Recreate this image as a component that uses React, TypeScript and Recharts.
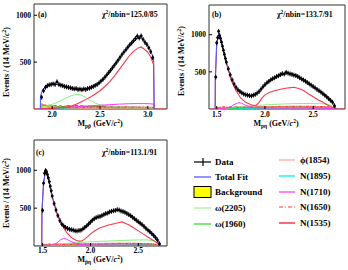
import React from "react";
import { ComposedChart, Line, Area, Scatter, XAxis, YAxis, ReferenceArea } from "recharts";

type P = [number, number];

// ---------- panel (a): M(p pbar) ----------
const aData: P[] = [
  [1.89, 125], [1.91, 195], [1.93, 232], [1.95, 248], [1.97, 258], [1.99, 262], [2.01, 268], [2.03, 262],
  [2.05, 290], [2.07, 262], [2.09, 255], [2.11, 248], [2.13, 240], [2.15, 236], [2.17, 230], [2.19, 226],
  [2.21, 220], [2.23, 214], [2.25, 218], [2.27, 208], [2.29, 212], [2.31, 205], [2.33, 214], [2.35, 208],
  [2.37, 218], [2.39, 222], [2.41, 232], [2.43, 240], [2.45, 252], [2.47, 262], [2.49, 278], [2.51, 298],
  [2.53, 315], [2.55, 338], [2.57, 362], [2.59, 388], [2.61, 412], [2.63, 440], [2.65, 466], [2.67, 494],
  [2.69, 522], [2.71, 552], [2.73, 582], [2.75, 608], [2.77, 632], [2.79, 658], [2.81, 684], [2.83, 704],
  [2.85, 728], [2.87, 752], [2.89, 778], [2.91, 758], [2.93, 780], [2.95, 742], [2.97, 710], [2.99, 688],
  [3.01, 652], [3.03, 612], [3.05, 548],
];
const aFit: P[] = [
  [1.876, 0], [1.878, 140], [1.9, 205], [1.95, 250], [2.0, 264], [2.05, 262], [2.1, 250], [2.15, 237],
  [2.2, 225], [2.25, 215], [2.3, 210], [2.35, 212], [2.4, 226], [2.45, 252], [2.5, 288], [2.55, 338],
  [2.6, 398], [2.65, 462], [2.7, 535], [2.75, 605], [2.8, 668], [2.85, 720], [2.9, 758], [2.93, 760],
  [2.96, 730], [3.0, 672], [3.03, 615], [3.06, 545], [3.066, 0],
];
const aN1535: P[] = [
  [1.81, 0], [1.876, 0], [1.9, 3], [1.95, 5], [2.0, 7], [2.05, 10], [2.1, 14], [2.15, 20], [2.2, 32],
  [2.25, 50], [2.3, 75], [2.35, 100], [2.4, 128], [2.45, 160], [2.5, 195], [2.55, 240], [2.6, 290],
  [2.65, 350], [2.7, 420], [2.75, 490], [2.8, 560], [2.85, 615], [2.9, 652], [2.93, 662], [2.96, 640],
  [3.0, 605], [3.03, 555], [3.06, 470], [3.066, 0], [3.2, 0],
];
const aW2205: P[] = [
  [1.876, 0], [1.9, 18], [1.95, 32], [2.0, 50], [2.05, 70], [2.1, 95], [2.15, 120], [2.2, 142], [2.25, 155],
  [2.3, 150], [2.35, 125], [2.4, 90], [2.45, 62], [2.5, 45], [2.55, 35], [2.6, 30], [2.7, 26], [2.8, 23],
  [2.9, 20], [3.0, 16], [3.06, 12], [3.066, 0],
];
const aW1960: P[] = [
  [1.876, 0], [1.9, 42], [1.95, 36], [2.0, 30], [2.05, 24], [2.1, 19], [2.2, 13], [2.3, 10], [2.5, 8],
  [2.8, 6], [3.06, 4], [3.066, 0],
];
const aPhi: P[] = [
  [1.876, 0], [1.88, 60], [1.9, 52], [1.95, 38], [2.0, 27], [2.1, 15], [2.2, 9], [2.4, 5], [2.7, 3],
  [3.06, 2], [3.066, 0],
];
const aN1895: P[] = [[1.876, 0], [1.9, 4], [2.2, 8], [2.5, 10], [2.8, 9], [3.06, 6], [3.066, 0]];
const aN1710: P[] = [
  [1.876, 0], [1.9, 4], [2.0, 10], [2.1, 16], [2.2, 22], [2.3, 28], [2.4, 34], [2.5, 40], [2.6, 46],
  [2.7, 52], [2.8, 56], [2.9, 58], [3.0, 57], [3.06, 52], [3.066, 0],
];
const aN1650: P[] = [
  [1.876, 0], [1.9, 8], [2.0, 12], [2.2, 15], [2.4, 18], [2.6, 20], [2.8, 22], [3.0, 20], [3.06, 15], [3.066, 0],
];
const aBg: P[] = [
  [1.876, 45], [1.904, 38], [1.932, 33], [1.96, 40], [1.988, 30], [2.016, 36], [2.044, 28], [2.072, 34],
  [2.1, 26], [2.128, 31], [2.156, 36], [2.184, 29], [2.212, 33], [2.24, 38], [2.268, 27], [2.296, 35],
  [2.324, 30], [2.352, 26], [2.38, 32], [2.408, 24], [2.436, 30], [2.464, 27], [2.492, 22], [2.52, 28],
  [2.548, 25], [2.576, 21], [2.604, 27], [2.632, 23], [2.66, 20], [2.688, 25], [2.716, 22], [2.744, 19],
  [2.772, 24], [2.8, 20], [2.828, 17], [2.856, 22], [2.884, 19], [2.912, 16], [2.94, 20], [2.968, 17],
  [2.996, 15], [3.024, 18], [3.052, 14], [3.066, 0],
];

// ---------- panel (b): M(p eta) ----------
const bData: P[] = [
  [1.49, 430], [1.5, 890], [1.51, 960], [1.52, 1045], [1.53, 990], [1.54, 950], [1.55, 900], [1.56, 845],
  [1.57, 790], [1.58, 735], [1.59, 680], [1.6, 630], [1.62, 540], [1.64, 460], [1.66, 392], [1.68, 336],
  [1.7, 292], [1.72, 258], [1.74, 236], [1.76, 218], [1.78, 202], [1.8, 192], [1.82, 186], [1.84, 180],
  [1.86, 176], [1.88, 186], [1.9, 196], [1.92, 214], [1.94, 236], [1.96, 268], [1.98, 300], [2.0, 328],
  [2.02, 352], [2.04, 372], [2.06, 392], [2.08, 408], [2.1, 420], [2.12, 436], [2.14, 448], [2.16, 462],
  [2.18, 476], [2.2, 470], [2.22, 494], [2.24, 482], [2.26, 472], [2.28, 466], [2.3, 456], [2.32, 450],
  [2.34, 438], [2.36, 420], [2.38, 404], [2.4, 390], [2.42, 374], [2.44, 356], [2.46, 338], [2.48, 320],
  [2.5, 302], [2.52, 284], [2.54, 264], [2.56, 246], [2.58, 228], [2.6, 206], [2.62, 186], [2.64, 164],
  [2.66, 140], [2.68, 116], [2.7, 92], [2.72, 44],
];
const bFit: P[] = [
  [1.484, 0], [1.486, 400], [1.5, 880], [1.52, 1005], [1.54, 945], [1.56, 845], [1.6, 630], [1.65, 420],
  [1.7, 290], [1.75, 225], [1.8, 193], [1.85, 180], [1.9, 196], [1.95, 252], [2.0, 328], [2.05, 384],
  [2.1, 425], [2.15, 455], [2.2, 475], [2.25, 480], [2.3, 464], [2.35, 432], [2.4, 392], [2.45, 348],
  [2.5, 304], [2.55, 256], [2.6, 208], [2.65, 154], [2.7, 94], [2.73, 40], [2.735, 0],
];
const bN1535: P[] = [
  [1.42, 0], [1.484, 0], [1.486, 400], [1.5, 880], [1.52, 1000], [1.54, 935], [1.56, 830], [1.6, 610],
  [1.65, 390], [1.7, 245], [1.75, 145], [1.8, 90], [1.85, 60], [1.88, 48], [1.91, 52], [1.94, 90],
  [1.97, 150], [2.0, 190], [2.05, 225], [2.1, 245], [2.15, 262], [2.2, 275], [2.25, 285], [2.3, 292],
  [2.35, 276], [2.4, 250], [2.45, 205], [2.5, 165], [2.55, 125], [2.6, 90], [2.65, 55], [2.7, 22],
  [2.73, 5], [2.735, 0], [2.83, 0],
];
const bN1710: P[] = [
  [1.486, 0], [1.55, 3], [1.6, 10], [1.65, 35], [1.7, 72], [1.73, 86], [1.76, 76], [1.8, 50], [1.85, 28],
  [1.9, 18], [2.0, 14], [2.2, 12], [2.4, 12], [2.6, 10], [2.7, 6], [2.735, 0],
];
const bW2205: P[] = [
  [1.486, 0], [1.55, 8], [1.6, 15], [1.7, 25], [1.8, 35], [1.9, 45], [2.0, 55], [2.1, 62], [2.2, 68],
  [2.3, 72], [2.4, 74], [2.5, 74], [2.6, 70], [2.65, 62], [2.7, 40], [2.735, 0],
];
const bW1960: P[] = [
  [1.486, 0], [1.55, 4], [1.7, 14], [1.9, 22], [2.1, 27], [2.3, 30], [2.5, 30], [2.65, 24], [2.72, 8], [2.735, 0],
];
const bPhi: P[] = [
  [1.486, 0], [1.55, 10], [1.7, 22], [1.9, 30], [2.1, 35], [2.3, 38], [2.5, 36], [2.65, 28], [2.72, 10], [2.735, 0],
];
const bN1895: P[] = [[1.486, 0], [1.6, 4], [1.9, 10], [2.2, 14], [2.5, 14], [2.7, 6], [2.735, 0]];
const bN1650: P[] = [
  [1.486, 0], [1.52, 22], [1.56, 30], [1.62, 26], [1.7, 22], [1.9, 24], [2.1, 30], [2.3, 34], [2.5, 36],
  [2.65, 30], [2.72, 10], [2.735, 0],
];
const bBg: P[] = [
  [1.486, 12], [1.514, 18], [1.542, 15], [1.57, 22], [1.598, 19], [1.626, 25], [1.654, 21], [1.682, 27],
  [1.71, 24], [1.738, 20], [1.766, 28], [1.794, 23], [1.822, 30], [1.85, 26], [1.878, 22], [1.906, 29],
  [1.934, 25], [1.962, 31], [1.99, 27], [2.018, 33], [2.046, 28], [2.074, 24], [2.102, 30], [2.13, 34],
  [2.158, 27], [2.186, 31], [2.214, 26], [2.242, 32], [2.27, 28], [2.298, 24], [2.326, 30], [2.354, 26],
  [2.382, 29], [2.41, 23], [2.438, 27], [2.466, 22], [2.494, 26], [2.522, 21], [2.55, 24], [2.578, 19],
  [2.606, 22], [2.634, 17], [2.662, 19], [2.69, 14], [2.718, 10], [2.735, 0],
];

// ---------- panel (c): M(pbar eta) ----------
const cData: P[] = [
  [1.5, 470], [1.51, 830], [1.52, 960], [1.53, 995], [1.54, 985], [1.55, 945], [1.56, 900], [1.57, 850],
  [1.58, 790], [1.59, 730], [1.6, 660], [1.62, 560], [1.64, 475], [1.66, 400], [1.68, 335], [1.7, 290],
  [1.72, 265], [1.74, 245], [1.76, 232], [1.78, 222], [1.8, 215], [1.82, 210], [1.84, 200], [1.86, 198],
  [1.88, 205], [1.9, 208], [1.92, 225], [1.94, 245], [1.96, 265], [1.98, 290], [2.0, 315], [2.02, 340],
  [2.04, 360], [2.06, 375], [2.08, 385], [2.1, 390], [2.12, 402], [2.14, 415], [2.16, 428], [2.18, 435],
  [2.2, 450], [2.22, 458], [2.24, 465], [2.26, 470], [2.28, 480], [2.3, 475], [2.32, 462], [2.34, 455],
  [2.36, 445], [2.38, 430], [2.4, 415], [2.42, 400], [2.44, 380], [2.46, 360], [2.48, 340], [2.5, 320],
  [2.52, 300], [2.54, 282], [2.56, 258], [2.58, 232], [2.6, 210], [2.62, 190], [2.64, 165], [2.66, 140],
  [2.68, 112], [2.7, 80], [2.72, 30],
];
const cFit: P[] = [
  [1.491, 0], [1.493, 460], [1.51, 830], [1.53, 992], [1.55, 945], [1.6, 660], [1.65, 440], [1.7, 292],
  [1.75, 240], [1.8, 216], [1.85, 200], [1.9, 208], [1.95, 255], [2.0, 315], [2.05, 368], [2.1, 392],
  [2.15, 420], [2.2, 448], [2.25, 468], [2.3, 472], [2.35, 450], [2.4, 415], [2.45, 370], [2.5, 320],
  [2.55, 270], [2.6, 210], [2.65, 150], [2.7, 82], [2.73, 25], [2.735, 0],
];
const cN1535: P[] = [
  [1.41, 0], [1.491, 0], [1.493, 460], [1.51, 830], [1.53, 988], [1.55, 940], [1.6, 650], [1.65, 420],
  [1.7, 285], [1.75, 180], [1.8, 112], [1.85, 76], [1.88, 64], [1.91, 66], [1.94, 90], [1.97, 125],
  [2.0, 160], [2.05, 205], [2.1, 240], [2.15, 262], [2.2, 280], [2.25, 295], [2.3, 310], [2.33, 318],
  [2.36, 302], [2.4, 280], [2.45, 240], [2.5, 200], [2.55, 160], [2.6, 118], [2.65, 80], [2.7, 40],
  [2.73, 5], [2.735, 0], [2.8, 0],
];
const cN1710: P[] = [
  [1.491, 0], [1.55, 4], [1.6, 12], [1.65, 40], [1.69, 85], [1.72, 100], [1.75, 90], [1.8, 58], [1.85, 32],
  [1.9, 20], [2.0, 15], [2.2, 13], [2.4, 12], [2.6, 10], [2.7, 6], [2.735, 0],
];
const cW2205: P[] = [
  [1.491, 0], [1.55, 8], [1.6, 15], [1.7, 28], [1.8, 40], [1.9, 48], [2.0, 56], [2.1, 62], [2.2, 66],
  [2.3, 72], [2.4, 76], [2.5, 80], [2.6, 80], [2.66, 68], [2.71, 35], [2.735, 0],
];
const cW1960: P[] = [
  [1.491, 0], [1.55, 5], [1.7, 16], [1.9, 24], [2.1, 28], [2.3, 30], [2.5, 30], [2.65, 24], [2.72, 8], [2.735, 0],
];
const cPhi: P[] = [
  [1.491, 0], [1.55, 10], [1.7, 20], [1.9, 28], [2.1, 34], [2.3, 38], [2.5, 36], [2.65, 28], [2.72, 10], [2.735, 0],
];
const cN1895: P[] = [[1.491, 0], [1.6, 5], [1.9, 11], [2.2, 14], [2.5, 13], [2.7, 6], [2.735, 0]];
const cN1650: P[] = [
  [1.491, 0], [1.52, 20], [1.56, 26], [1.62, 24], [1.7, 20], [1.9, 22], [2.1, 28], [2.3, 32], [2.5, 34],
  [2.65, 28], [2.72, 10], [2.735, 0],
];
const cBg: P[] = [
  [1.491, 14], [1.519, 17], [1.547, 21], [1.575, 16], [1.603, 23], [1.631, 20], [1.659, 26], [1.687, 22],
  [1.715, 28], [1.743, 24], [1.771, 21], [1.799, 29], [1.827, 25], [1.855, 31], [1.883, 27], [1.911, 23],
  [1.939, 30], [1.967, 26], [1.995, 32], [2.023, 28], [2.051, 34], [2.079, 29], [2.107, 25], [2.135, 31],
  [2.163, 27], [2.191, 33], [2.219, 28], [2.247, 24], [2.275, 30], [2.303, 26], [2.331, 29], [2.359, 24],
  [2.387, 27], [2.415, 22], [2.443, 26], [2.471, 21], [2.499, 24], [2.527, 20], [2.555, 23], [2.583, 18],
  [2.611, 20], [2.639, 16], [2.667, 17], [2.695, 12], [2.723, 8], [2.735, 0],
];

const LEGEND_COL1 = ["Data", "Total Fit", "Background", "ω(2205)", "ω(1960)"];
const LEGEND_COL2 = ["ϕ(1854)", "N(1895)", "N(1710)", "N(1650)", "N(1535)"];

const FONT = "'Liberation Serif', 'DejaVu Serif', 'Times New Roman', serif";
const C = {
  fit: "#5a5aff",
  bg: "#ffff00",
  w2205: "#88ee88",
  w1960: "#22dd22",
  phi: "#ff8a8a",
  n1895: "#00e6e6",
  n1710: "#ff33ff",
  n1650: "#ff3a3a",
  n1535: "#f23a4c",
};

const pts = (s: P[]) => s.map(([x, y]) => ({ x, y }));

type Sets = {
  data: P[]; fit: P[]; bg: P[]; w2205: P[]; w1960: P[]; phi: P[];
  n1895: P[]; n1710: P[]; n1650: P[]; n1535: P[];
};

const TICK = { fontSize: 7.5, fontWeight: 700, fill: "#000", fontFamily: FONT };

const DataMark = (p: any) => {
  const { cx, cy } = p;
  if (cx == null || cy == null) return <g />;
  return (
    <g>
      <line x1={cx} x2={cx} y1={cy - 2.4} y2={cy + 2.4} stroke="#000" strokeWidth={1} />
      <line x1={cx - 1.4} x2={cx + 1.4} y1={cy} y2={cy} stroke="#000" strokeWidth={1} />
      <rect x={cx - 1.1} y={cy - 1.1} width={2.2} height={2.2} fill="#000" />
    </g>
  );
};

function Panel(props: {
  left: number; top: number; w: number; h: number; mTop: number; mRight: number; xH: number; tm: number;
  xDomain: [number, number]; yMax: number; xTicks: number[]; s: Sets;
}) {
  const { left, top, w, h, mTop, mRight, xH, tm, xDomain, yMax, xTicks, s } = props;
  const line = (d: P[], color: string, width = 1, dash?: string) => (
    <Line
      data={pts(d)}
      dataKey="y"
      type="linear"
      stroke={color}
      strokeWidth={width}
      strokeDasharray={dash}
      dot={false}
      activeDot={false}
      isAnimationActive={false}
    />
  );
  return (
    <div style={{ position: "absolute", left, top }}>
      <ComposedChart width={w} height={h} margin={{ top: mTop, right: mRight, bottom: 0, left: 0 }}>
        <XAxis
          type="number"
          dataKey="x"
          domain={xDomain}
          allowDataOverflow
          ticks={xTicks}
          interval={0}
          tickFormatter={(v: number) => v.toFixed(1)}
          tickSize={-3}
          tickMargin={tm}
          axisLine={false}
          tickLine={{ stroke: "#000" }}
          tick={TICK}
          height={xH}
        />
        <YAxis
          type="number"
          dataKey="y"
          domain={[0, yMax]}
          allowDataOverflow
          ticks={[500, 1000]}
          interval={0}
          tickSize={-3}
          tickMargin={6}
          axisLine={false}
          tickLine={{ stroke: "#000" }}
          tick={TICK}
          width={34}
        />
        <Area
          data={pts(s.bg)}
          dataKey="y"
          type="stepAfter"
          fill={C.bg}
          fillOpacity={1}
          stroke="#222"
          strokeWidth={0.6}
          dot={false}
          activeDot={false}
          isAnimationActive={false}
        />
        {line(s.n1895, C.n1895)}
        {line(s.w1960, C.w1960)}
        {line(s.w2205, C.w2205)}
        {line(s.phi, C.phi)}
        {line(s.n1650, C.n1650, 1, "3 1.5 1 1.5")}
        {line(s.n1710, C.n1710)}
        {line(s.n1535, C.n1535, 1.1)}
        {line(s.fit, C.fit, 1.1)}
        <Scatter data={pts(s.data)} dataKey="y" fill="#000" shape={DataMark} isAnimationActive={false} />
        <ReferenceArea
          x1={xDomain[0]}
          x2={xDomain[1]}
          y1={0}
          y2={yMax}
          fill="none"
          fillOpacity={0}
          stroke="#333"
          strokeWidth={1}
          ifOverflow="visible"
        />
      </ComposedChart>
    </div>
  );
}

function XTitle({ x, y, sub }: { x: number; y: number; sub: string }) {
  return (
    <text x={x} y={y} textAnchor="middle" fontSize={8} fontWeight={700} fontFamily={FONT}>
      M<tspan fontSize={5.5} dy={1.5}>{sub}</tspan>
      <tspan dy={-1.5}> (GeV/</tspan>
      <tspan fontStyle="italic">c</tspan>
      <tspan fontSize={5.5} dy={-3}>2</tspan>
      <tspan dy={3}>)</tspan>
    </text>
  );
}

function YTitle({ x, y }: { x: number; y: number }) {
  return (
    <text
      x={x}
      y={y}
      transform={`rotate(-90 ${x} ${y})`}
      textAnchor="middle"
      fontSize={8}
      fontWeight={700}
      fontFamily={FONT}
    >
      Events / (14 MeV/<tspan fontStyle="italic">c</tspan>
      <tspan fontSize={5.5} dy={-3}>2</tspan>
      <tspan dy={3}>)</tspan>
    </text>
  );
}

function Chi({ x, y, value }: { x: number; y: number; value: string }) {
  return (
    <text x={x} y={y} fontSize={7.8} fontWeight={700} fontFamily={FONT}>
      χ<tspan fontSize={5.5} dy={-3}>2</tspan>
      <tspan dy={3}>/nbin={value}</tspan>
    </text>
  );
}

function Legend() {
  const rows1 = [162, 177, 192, 208, 224];
  const rows2 = [160, 176, 192, 207, 223];
  const col2Style = [
    { c: C.phi, w: 1, d: undefined },
    { c: C.n1895, w: 1.2, d: undefined },
    { c: C.n1710, w: 1.2, d: undefined },
    { c: C.n1650, w: 1.2, d: "4 2 1 2" },
    { c: C.n1535, w: 1.5, d: undefined },
  ];
  const lab = { fontSize: 9, fontWeight: 700, fontFamily: FONT, dominantBaseline: "central" as const };
  return (
    <g>
      {/* column 1 */}
      <line x1={194} x2={211} y1={rows1[0]} y2={rows1[0]} stroke="#000" strokeWidth={1.2} />
      <line x1={203} x2={203} y1={rows1[0] - 4} y2={rows1[0] + 4} stroke="#000" strokeWidth={1.2} />
      <line x1={194} x2={211} y1={rows1[1]} y2={rows1[1]} stroke={C.fit} strokeWidth={1.3} />
      <rect x={194} y={rows1[2] - 5.5} width={17} height={11} fill={C.bg} stroke="#000" strokeWidth={1} />
      <line x1={194} x2={211} y1={rows1[3]} y2={rows1[3]} stroke={C.w2205} strokeWidth={1} />
      <line x1={194} x2={211} y1={rows1[4]} y2={rows1[4]} stroke={C.w1960} strokeWidth={1.2} />
      {LEGEND_COL1.map((t, i) => (
        <text key={t} x={215} y={rows1[i]} {...lab}>{t}</text>
      ))}
      {/* column 2 */}
      {col2Style.map((st, i) => (
        <line key={i} x1={279} x2={295} y1={rows2[i]} y2={rows2[i]} stroke={st.c} strokeWidth={st.w} strokeDasharray={st.d} />
      ))}
      {LEGEND_COL2.map((t, i) => (
        <text key={t} x={300} y={rows2[i]} {...lab}>{t}</text>
      ))}
    </g>
  );
}

export default function App() {
  const A: Sets = { data: aData, fit: aFit, bg: aBg, w2205: aW2205, w1960: aW1960, phi: aPhi, n1895: aN1895, n1710: aN1710, n1650: aN1650, n1535: aN1535 };
  const B: Sets = { data: bData, fit: bFit, bg: bBg, w2205: bW2205, w1960: bW1960, phi: bPhi, n1895: bN1895, n1710: bN1710, n1650: bN1650, n1535: bN1535 };
  const Cc: Sets = { data: cData, fit: cFit, bg: cBg, w2205: cW2205, w1960: cW1960, phi: cPhi, n1895: cN1895, n1710: cN1710, n1650: cN1650, n1535: cN1535 };
  return (
    <div style={{ position: "absolute", left: 0, top: 0, width: 348, height: 270, background: "#fff", overflow: "hidden" }}>
      <Panel left={0} top={0} w={175} h={130} mTop={4} mRight={8} xH={21} tm={6} xDomain={[1.81, 3.2]} yMax={1120} xTicks={[2, 2.5, 3]} s={A} />
      <Panel left={175} top={0} w={173} h={130} mTop={5} mRight={3} xH={21} tm={6} xDomain={[1.42, 2.83]} yMax={1400} xTicks={[1.5, 2, 2.5]} s={B} />
      <Panel left={0} top={130} w={175} h={140} mTop={10} mRight={8} xH={24} tm={5} xDomain={[1.41, 2.8]} yMax={1400} xTicks={[1.5, 2, 2.5]} s={Cc} />
      <svg width={348} height={270} style={{ position: "absolute", left: 0, top: 0, pointerEvents: "none" }}>
        <YTitle x={9} y={62} />
        <YTitle x={184} y={61} />
        <YTitle x={9} y={193} />
        <XTitle x={100} y={126} sub={"pp\u0304"} />
        <XTitle x={276} y={126} sub={"pη"} />
        <XTitle x={100} y={262} sub={"p\u0304η"} />
        <text x={38} y={17} fontSize={7.5} fontWeight={700} fontFamily={FONT}>(a)</text>
        <text x={212} y={17} fontSize={7.5} fontWeight={700} fontFamily={FONT}>(b)</text>
        <text x={36} y={155} fontSize={7.5} fontWeight={700} fontFamily={FONT}>(c)</text>
        <Chi x={102} y={17} value="125.0/85" />
        <Chi x={277} y={17} value="133.7/91" />
        <Chi x={102} y={155} value="113.1/91" />
        <Legend />
      </svg>
    </div>
  );
}
